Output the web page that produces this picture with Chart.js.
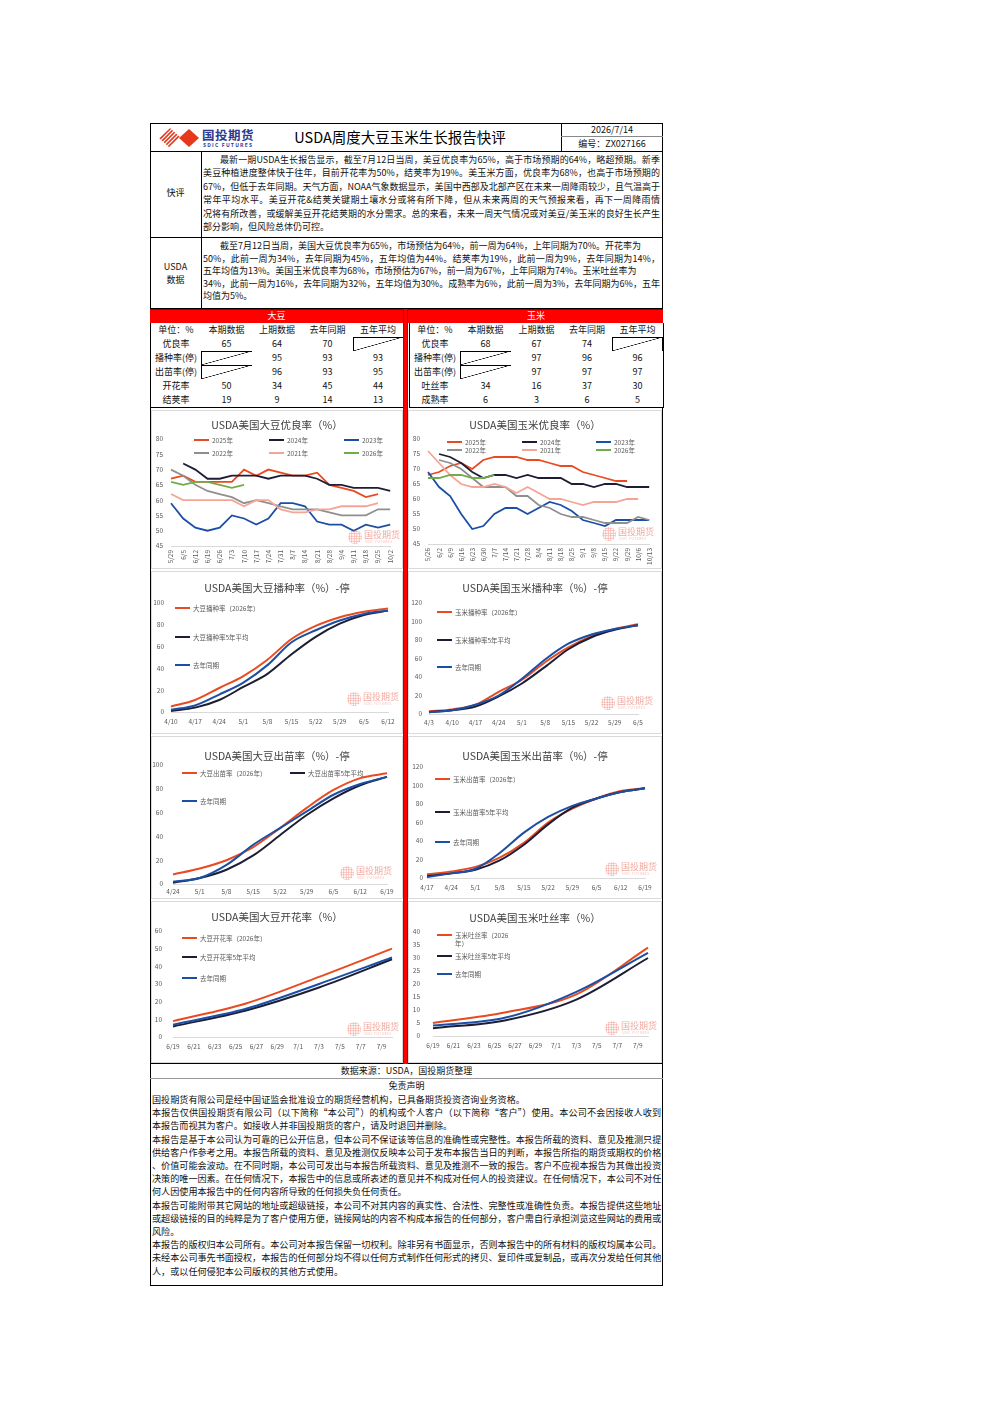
<!DOCTYPE html>
<html lang="en">
<head>
<meta charset="UTF-8" />
<title>USDA周度大豆玉米生长报告快评</title>
<script src="https://cdn.jsdelivr.net/npm/chart.js"></script>
<style>
  html, body { margin: 0; padding: 0; background: #fff; }
  body { width: 992px; height: 1403px; position: relative; font-family: "Noto Sans CJK SC", "Noto Sans", sans-serif; color: #111; }
  .hl { position: absolute; height: 1px; background: #000; }
  .vl { position: absolute; width: 1px; background: #000; }
  .txt { position: absolute; font-size: 9px; white-space: nowrap; }
  .txt div { overflow: visible; }
  .j { text-align: justify; text-align-last: justify; }
  .cell { position: absolute; border: 1px solid #d9d9d9; box-sizing: border-box; background: #fff; }
  .cell canvas { position: absolute; left: 0; top: 0; }
  .ctitle { position: absolute; text-align: center; font-size: 10.5px; line-height: 16px; color: #404040; white-space: nowrap; }
  .lg { position: absolute; font-size: 6.5px; line-height: 8px; color: #595959; white-space: nowrap; }
  .lgl { position: absolute; height: 2px; }
  .tc { position: absolute; box-sizing: border-box; border-right: 1px solid #000; border-bottom: 1px solid #000; font-size: 9px; text-align: center; line-height: 13px; background: #fff; }
  .slash { background: linear-gradient(to bottom right, transparent calc(50% - 0.6px), #000 50%, transparent calc(50% + 0.6px)); }
  .wm { position: absolute; width: 54px; height: 16px; }
  .wm b { position: absolute; left: 0; top: 0; width: 14px; height: 14px; border-radius: 50%;
          background: radial-gradient(circle, rgba(240,110,95,.55) 0 0.8px, transparent 1.1px) 0 0 / 2.5px 2.5px; }
  .wm span { position: absolute; left: 16px; top: -1px; font-size: 9px; line-height: 11px; color: rgba(232,120,105,.65); }
  .wm em { position: absolute; left: 17px; top: 10px; font-size: 3px; font-style: normal; color: rgba(232,120,105,.55); letter-spacing: .6px; }
</style>
</head>
<body>
<!-- header -->
<div style="position:absolute;left:150px;top:123px;width:513px;height:1163px;border:1px solid #000;box-sizing:border-box;"></div>
<svg style="position:absolute;left:159px;top:128px" width="42" height="20" viewBox="0 0 42 20">
  <defs><clipPath id="dia"><polygon points="0,10 11,0 22,10 11,20" /></clipPath></defs>
  <g clip-path="url(#dia)" stroke="#e8381c" stroke-width="1.6">
    <line x1="-4" y1="20" x2="16" y2="0" /><line x1="0" y1="20" x2="20" y2="0" />
    <line x1="4" y1="20" x2="24" y2="0" /><line x1="8" y1="20" x2="28" y2="0" />
    <line x1="-8" y1="20" x2="12" y2="0" />
  </g>
  <polygon points="20,10 30,1 40,10 30,19" fill="#e8381c" />
</svg>
<div style="position:absolute;left:202px;top:127px;font-size:12.5px;line-height:15px;font-weight:bold;color:#2b3990;letter-spacing:0.5px;">国投期货</div>
<div style="position:absolute;left:203px;top:142px;font-size:5px;line-height:6px;font-weight:bold;color:#2b3990;letter-spacing:1.2px;">SDIC FUTURES</div>
<div style="position:absolute;left:250px;width:300px;top:128px;text-align:center;font-size:14.5px;line-height:18px;color:#000;">USDA周度大豆玉米生长报告快评</div>
<div class="vl" style="left:561px;top:123px;height:28px;"></div>
<div class="hl" style="left:561px;top:136px;width:102px;background:#888;"></div>
<div style="position:absolute;left:561px;width:102px;top:124px;text-align:center;font-size:9px;line-height:12px;">2026/7/14</div>
<div style="position:absolute;left:561px;width:102px;top:138px;text-align:center;font-size:9px;line-height:12px;">编号：ZX027166</div>
<div class="hl" style="left:150px;top:151px;width:513px;"></div>
<div class="vl" style="left:201px;top:151px;height:158px;"></div>
<div class="hl" style="left:150px;top:237px;width:513px;"></div>
<div class="hl" style="left:150px;top:308px;width:513px;"></div>
<div style="position:absolute;left:150px;width:51px;top:186px;text-align:center;font-size:9px;line-height:13px;">快评</div>
<div style="position:absolute;left:150px;width:51px;top:260px;text-align:center;font-size:9px;line-height:13px;">USDA<br>数据</div>

<div class="txt" style="left:203px;top:153px;width:457px;line-height:13.4px;">
  <div class="j" style="text-indent:17px">最新一期USDA生长报告显示，截至7月12日当周，美豆优良率为65%，高于市场预期的64%，略超预期。新季</div>
  <div class="j">美豆种植进度整体快于往年，目前开花率为50%，结荚率为19%。美玉米方面，优良率为68%，也高于市场预期的</div>
  <div class="j">67%，但低于去年同期。天气方面，NOAA气象数据显示，美国中西部及北部产区在未来一周降雨较少，且气温高于</div>
  <div class="j">常年平均水平。美豆开花&amp;结荚关键期土壤水分或将有所下降，但从未来两周的天气预报来看，再下一周降雨情</div>
  <div class="j">况将有所改善，或缓解美豆开花结荚期的水分需求。总的来看，未来一周天气情况或对美豆/美玉米的良好生长产生</div>
  <div>部分影响，但风险总体仍可控。</div>
</div>
<div class="txt" style="left:203px;top:240px;width:457px;line-height:12.5px;">
  <div style="text-indent:17px">截至7月12日当周，美国大豆优良率为65%，市场预估为64%，前一周为64%，上年同期为70%。开花率为</div>
  <div class="j">50%，此前一周为34%，去年同期为45%，五年均值为44%。结荚率为19%，此前一周为9%，去年同期为14%，</div>
  <div>五年均值为13%。美国玉米优良率为68%，市场预估为67%，前一周为67%，上年同期为74%。玉米吐丝率为</div>
  <div class="j">34%，此前一周为16%，去年同期为32%，五年均值为30%。成熟率为6%，此前一周为3%，去年同期为6%，五年</div>
  <div>均值为5%。</div>
</div>

<!-- red band -->
<div style="position:absolute;left:150px;top:309px;width:513px;height:14px;background:#f00;border-top:1px solid #900;box-sizing:border-box;"></div>
<div style="position:absolute;left:150px;width:253px;top:309px;text-align:center;font-size:9px;line-height:14px;color:#fff;">大豆</div>
<div style="position:absolute;left:409px;width:254px;top:309px;text-align:center;font-size:9px;line-height:14px;color:#fff;">玉米</div>
<div style="position:absolute;left:403px;top:309px;width:5px;height:755px;background:#f00;border-left:1px solid #b00;border-right:1px solid #b00;box-sizing:border-box;z-index:5;"></div>

<!-- footer -->
<div class="hl" style="left:150px;top:1063px;width:513px;"></div>
<div class="hl" style="left:150px;top:1078px;width:513px;background:#999;"></div>
<div style="position:absolute;left:150px;width:513px;top:1065px;text-align:center;font-size:9px;line-height:12px;">数据来源：USDA，国投期货整理</div>
<div style="position:absolute;left:150px;width:513px;top:1080px;text-align:center;font-size:9px;line-height:12px;">免责声明</div>
<div class="txt" style="left:152px;top:1093px;width:509px;line-height:13.2px;font-size:9.1px;">
  <div>国投期货有限公司是经中国证监会批准设立的期货经营机构，已具备期货投资咨询业务资格。</div>
  <div class="j">本报告仅供国投期货有限公司（以下简称“本公司”）的机构或个人客户（以下简称“客户”）使用。本公司不会因接收人收到</div>
  <div>本报告而视其为客户。如接收人并非国投期货的客户，请及时退回并删除。</div>
  <div class="j">本报告是基于本公司认为可靠的已公开信息，但本公司不保证该等信息的准确性或完整性。本报告所载的资料、意见及推测只提</div>
  <div class="j">供给客户作参考之用。本报告所载的资料、意见及推测仅反映本公司于发布本报告当日的判断，本报告所指的期货或期权的价格</div>
  <div class="j">、价值可能会波动。在不同时期，本公司可发出与本报告所载资料、意见及推测不一致的报告。客户不应视本报告为其做出投资</div>
  <div class="j">决策的唯一因素。在任何情况下，本报告中的信息或所表述的意见并不构成对任何人的投资建议。在任何情况下，本公司不对任</div>
  <div>何人因使用本报告中的任何内容所导致的任何损失负任何责任。</div>
  <div class="j">本报告可能附带其它网站的地址或超级链接，本公司不对其内容的真实性、合法性、完整性或准确性负责。本报告提供这些地址</div>
  <div class="j">或超级链接的目的纯粹是为了客户使用方便，链接网站的内容不构成本报告的任何部分，客户需自行承担浏览这些网站的费用或</div>
  <div>风险。</div>
  <div>本报告的版权归本公司所有。本公司对本报告保留一切权利。除非另有书面显示，否则本报告中的所有材料的版权均属本公司。</div>
  <div class="j">未经本公司事先书面授权，本报告的任何部分均不得以任何方式制作任何形式的拷贝、复印件或复制品，或再次分发给任何其他</div>
  <div>人，或以任何侵犯本公司版权的其他方式使用。</div>
</div>

<script>
const FONT = '"Noto Sans CJK SC", "Noto Sans", sans-serif';
const RED = '#ea4a1f', NAVY = '#1d1d35', BLUE = '#1b4fa5', GREY = '#8f8f8f', PINK = '#f5a596', GREEN = '#70ad47';

// ---- table ----
const tableHeads = ['单位：%', '本期数据', '上期数据', '去年同期', '五年平均'];
const soyRows = ['优良率', '播种率(停)', '出苗率(停)', '开花率', '结荚率'];
const soyTable = [[65, 64, 70, null], [null, 95, 93, 93], [null, 96, 93, 95], [50, 34, 45, 44], [19, 9, 14, 13]];
const cornRows = ['优良率', '播种率(停)', '出苗率(停)', '吐丝率', '成熟率'];
const cornTable = [[68, 67, 74, null], [null, 97, 96, 96], [null, 97, 97, 97], [34, 16, 37, 30], [6, 3, 6, 5]];

// ---- 优良率 ----
const soyGoodWeeks = ['5/29','6/5','6/12','6/19','6/26','7/3','7/10','7/17','7/24','7/31','8/7','8/14','8/21','8/28','9/4','9/11','9/18','9/25','10/2'];
const soyGood2025 = [67,68,66,66,66,66,70,68,70,69,68,68,69,65,64,63,61,62,null];
const soyGood2024 = [null,72,70,67,67,68,68,68,67,68,68,68,67,65,65,64,64,64,63];
const soyGood2023 = [59,54,51,50,51,55,54,52,54,59,59,58,53,52,52,50,52,51,52];
const soyGood2022 = [70,68,65,63,62,61,59,60,59,58,57,57,57,56,55,55,55,57,57];
const soyGood2021 = [62,60,60,60,60,60,58,60,60,57,56,56,57,57,58,58,58,59,null];
const soyGood2026 = [66,65,66,66,65,64,65];

const cornGoodWeeks = ['5/26','6/2','6/9','6/16','6/23','6/30','7/7','7/14','7/21','7/28','8/4','8/11','8/18','8/25','9/1','9/8','9/15','9/22','9/29','10/6','10/13'];
const cornGood2025 = [68,69,71,72,70,73,74,74,74,73,73,72,71,71,69,68,67,66,66,null,null];
const cornGood2024 = [null,75,74,72,69,67,68,68,67,68,67,67,67,65,65,64,65,65,64,64,64];
const cornGood2023 = [69,64,61,55,50,51,55,57,57,55,57,59,58,56,53,52,51,53,53,53,53];
const cornGood2022 = [null,73,72,70,67,64,64,64,61,61,58,57,55,54,54,53,52,52,52,54,53];
const cornGood2021 = [76,72,68,65,64,64,65,64,62,64,62,60,60,59,58,59,59,59,60,60,null];
const cornGood2026 = [67,67,68,68,67,67,68];

// ---- 播种率 ----
const soyPlantWeeks = ['4/10','4/17','4/24','5/1','5/8','5/15','5/22','5/29','6/5','6/12'];
const soyPlant2026 = [5,11,22,33,48,67,79,87,92,95];
const soyPlant5yr = [1,4,11,23,35,53,69,81,89,93];
const soyPlantLastYr = [2,6,16,27,43,64,75,84,90,93];

const cornPlantWeeks = ['4/3','4/10','4/17','4/24','5/1','5/8','5/15','5/22','5/29','6/5'];
const cornPlant2026 = [3,5,10,24,37,56,72,84,92,97];
const cornPlant5yr = [2,4,8,19,33,51,70,83,91,96];
const cornPlantLastYr = [2,4,10,20,38,59,76,86,92,96];

// ---- 出苗率 ----
const soyEmergeWeeks = ['4/24','5/1','5/8','5/15','5/22','5/29','6/5','6/12','6/19'];
const soyEmerge2026 = [8,13,20,31,47,64,79,89,93];
const soyEmerge5yr = [1,5,12,24,41,58,72,83,90];
const soyEmergeLastYr = [2,5,16,33,47,61,75,84,90];

const cornEmergeWeeks = ['4/17','4/24','5/1','5/8','5/15','5/22','5/29','6/5','6/12','6/19'];
const cornEmerge2026 = [4,7,12,22,38,60,75,86,94,97];
const cornEmerge5yr = [2,5,9,19,36,58,76,86,93,97];
const cornEmergeLastYr = [1,5,10,27,49,66,78,86,93,97];

// ---- 开花率 / 吐丝率 ----
const summerDays = ['6/19','6/20','6/21','6/22','6/23','6/24','6/25','6/26','6/27','6/28','6/29','6/30','7/1','7/2','7/3','7/4','7/5','7/6','7/7','7/8','7/9','7/10'];
const summerWeeks = ['6/19','6/26','7/3','7/10'];
const soyBloom2026 = [9,19,34,50];
const soyBloom5yr = [6,15,28,44];
const soyBloomLastYr = [7,16,30,45];
const cornSilk2026 = [5,9,16,34];
const cornSilk5yr = [3,6,14,30];
const cornSilkLastYr = [4,7,17,32];

const px = v => v + 'px';
function el(cls, css, html) {
  const d = document.createElement('div');
  if (cls) d.className = cls;
  Object.assign(d.style, css);
  if (html != null) d.innerHTML = html;
  document.body.appendChild(d);
  return d;
}

// table
const colsL = [150, 201, 252, 302, 353, 403];
const colsR = [409, 460, 511, 562, 612, 663];
const rowsY = [323, 337, 351, 365, 379, 393, 407];
function drawTable(cols, rowNames, values) {
  for (let r = 0; r < rowsY.length - 1; r++) {
    for (let c = 0; c < cols.length - 1; c++) {
      let txt = '', slash = false;
      if (r === 0) txt = tableHeads[c];
      else if (c === 0) txt = rowNames[r - 1];
      else {
        const v = values[r - 1][c - 1];
        if (v === null) slash = true; else txt = v;
      }
      const d = el('tc' + (slash ? ' slash' : ''), {
        left: px(cols[c]), top: px(rowsY[r]), width: px(cols[c + 1] - cols[c] + 1), height: px(rowsY[r + 1] - rowsY[r] + 1),
        lineHeight: px(rowsY[r + 1] - rowsY[r])
      }, String(txt));
      if (c === 0) d.style.borderLeft = '1px solid #000';
    }
  }
}
drawTable(colsL, soyRows, soyTable);
drawTable(colsR, cornRows, cornTable);

function watermark(x, y) {
  el('wm', { left: px(x), top: px(y) }, '<b></b><span>国投期货</span><em>SDIC FUTURES</em>');
}

function makeChart(s) {
  const [x, y, w, h] = s.cell;
  const box = el('cell', { left: px(x), top: px(y), width: px(w), height: px(h) });
  const cv = document.createElement('canvas');
  const cw = w - 2, ch = h - 2;
  cv.width = cw; cv.height = ch;
  box.appendChild(cv);
  const ox = x + 1, oy = y + 1;
  const L = s.first - ox, R = s.last - ox, T = s.top - oy, B = s.bottom - oy;

  el('ctitle', { left: px(x), width: px(w), top: px(s.titleY - 8) }, s.title);

  s.series.forEach((sr, i) => {
    const [lx, ly] = s.legend[i];
    el('lgl', { left: px(lx), top: px(ly - 1), width: px(15), background: sr.color });
    const t = el('lg', { left: px(lx + 18), top: px(ly - 4) }, sr.name);
    if (s.wrapFirst && i === 0) { t.style.whiteSpace = 'normal'; t.style.width = px(s.wrapFirst); }
  });
  watermark(s.wm[0], s.wm[1]);

  const n = s.series.length;
  const datasets = s.series.map((sr, i) => ({
    label: sr.name,
    data: sr.data,
    borderColor: sr.color,
    backgroundColor: sr.color,
    borderWidth: s.lw || 2,
    pointRadius: 0,
    fill: false,
    order: n - i,
    tension: 0,
    cubicInterpolationMode: s.smooth ? 'monotone' : 'default'
  }));
  const xticks = {
    autoSkip: false, minRotation: s.rot || 0, maxRotation: s.rot || 0,
    padding: s.xpad, color: '#595959', font: { family: FONT, size: 6.5 }
  };
  if (s.xcb) xticks.callback = s.xcb;

  new Chart(cv, {
    type: 'line',
    data: { labels: s.labels, datasets },
    options: {
      responsive: false,
      animation: false,
      devicePixelRatio: 1,
      layout: { padding: { left: 0, right: cw - R, top: T, bottom: 0 } },
      plugins: { legend: { display: false }, tooltip: { enabled: false }, title: { display: false } },
      scales: {
        x: {
          type: 'category', offset: false,
          grid: { display: false, drawTicks: false },
          border: { display: true, color: '#d9d9d9', width: 1 },
          ticks: xticks,
          afterFit: sc => { sc.height = ch - B; }
        },
        y: {
          min: s.y[0], max: s.y[1],
          grid: { display: false, drawTicks: false },
          border: { display: false },
          ticks: { stepSize: s.y[2], padding: s.ypad, color: '#595959', font: { family: FONT, size: 6.5 } },
          afterFit: sc => { sc.width = L; }
        }
      }
    }
  });
}

const weekly = (vals) => vals.map((v, i) => ({ x: summerWeeks[i], y: v }));
const everyOther = function (val, idx) { return idx % 2 === 0 ? this.getLabelForValue(val) : ''; };

makeChart({
  cell: [151, 410, 252, 159], title: 'USDA美国大豆优良率（%）', titleY: 425,
  labels: soyGoodWeeks, y: [45, 80, 5], first: 171, last: 396, top: 439, bottom: 546,
  ypad: 8, xpad: 4, rot: 90, lw: 1.8,
  series: [
    { name: '2025年', data: soyGood2025, color: RED },
    { name: '2024年', data: soyGood2024, color: NAVY },
    { name: '2023年', data: soyGood2023, color: BLUE },
    { name: '2022年', data: soyGood2022, color: GREY },
    { name: '2021年', data: soyGood2021, color: PINK },
    { name: '2026年', data: soyGood2026, color: GREEN }
  ],
  legend: [[194, 440], [269, 440], [344, 440], [194, 453], [269, 453], [344, 453]],
  wm: [348, 530]
});

makeChart({
  cell: [408, 410, 254, 159], title: 'USDA美国玉米优良率（%）', titleY: 425,
  labels: cornGoodWeeks, y: [45, 80, 5], first: 428, last: 651, top: 439, bottom: 544,
  ypad: 8, xpad: 4, rot: 90, lw: 1.8,
  series: [
    { name: '2025年', data: cornGood2025, color: RED },
    { name: '2024年', data: cornGood2024, color: NAVY },
    { name: '2023年', data: cornGood2023, color: BLUE },
    { name: '2022年', data: cornGood2022, color: GREY },
    { name: '2021年', data: cornGood2021, color: PINK },
    { name: '2026年', data: cornGood2026, color: GREEN }
  ],
  legend: [[447, 442], [522, 442], [596, 442], [447, 450], [522, 450], [596, 450]],
  wm: [602, 527]
});

makeChart({
  cell: [151, 571, 252, 163], title: 'USDA美国大豆播种率（%）-停', titleY: 588,
  labels: soyPlantWeeks, y: [0, 100, 20], first: 171, last: 388, top: 603, bottom: 712,
  ypad: 7, xpad: 6, smooth: true,
  series: [
    { name: '大豆播种率（2026年）', data: soyPlant2026, color: RED },
    { name: '大豆播种率5年平均', data: soyPlant5yr, color: NAVY },
    { name: '去年同期', data: soyPlantLastYr, color: BLUE }
  ],
  legend: [[175, 608], [175, 637], [175, 665]],
  wm: [347, 692]
});

makeChart({
  cell: [408, 571, 254, 163], title: 'USDA美国玉米播种率（%）-停', titleY: 588,
  labels: cornPlantWeeks, y: [0, 120, 20], first: 429, last: 638, top: 603, bottom: 714,
  ypad: 7, xpad: 5, smooth: true,
  series: [
    { name: '玉米播种率（2026年）', data: cornPlant2026, color: RED },
    { name: '玉米播种率5年平均', data: cornPlant5yr, color: NAVY },
    { name: '去年同期', data: cornPlantLastYr, color: BLUE }
  ],
  legend: [[437, 612], [437, 640], [437, 667]],
  wm: [601, 696]
});

makeChart({
  cell: [151, 736, 252, 163], title: 'USDA美国大豆出苗率（%）-停', titleY: 756,
  labels: soyEmergeWeeks, y: [0, 100, 20], first: 173, last: 387, top: 765, bottom: 884,
  ypad: 10, xpad: 4, smooth: true,
  series: [
    { name: '大豆出苗率（2026年）', data: soyEmerge2026, color: RED },
    { name: '大豆出苗率5年平均', data: soyEmerge5yr, color: NAVY },
    { name: '去年同期', data: soyEmergeLastYr, color: BLUE }
  ],
  legend: [[182, 773], [290, 773], [182, 801]],
  wm: [340, 866]
});

makeChart({
  cell: [408, 736, 254, 163], title: 'USDA美国玉米出苗率（%）-停', titleY: 756,
  labels: cornEmergeWeeks, y: [0, 120, 20], first: 427, last: 645, top: 767, bottom: 878,
  ypad: 4, xpad: 6, smooth: true,
  series: [
    { name: '玉米出苗率（2026年）', data: cornEmerge2026, color: RED },
    { name: '玉米出苗率5年平均', data: cornEmerge5yr, color: NAVY },
    { name: '去年同期', data: cornEmergeLastYr, color: BLUE }
  ],
  legend: [[435, 779], [435, 812], [435, 842]],
  wm: [605, 862]
});

makeChart({
  cell: [151, 901, 252, 162], title: 'USDA美国大豆开花率（%）', titleY: 917,
  labels: summerDays, y: [0, 60, 10], first: 173, last: 392, top: 931, bottom: 1037,
  ypad: 11, xpad: 6, smooth: true, xcb: everyOther,
  series: [
    { name: '大豆开花率（2026年）', data: weekly(soyBloom2026), color: RED },
    { name: '大豆开花率5年平均', data: weekly(soyBloom5yr), color: NAVY },
    { name: '去年同期', data: weekly(soyBloomLastYr), color: BLUE }
  ],
  legend: [[182, 938], [182, 957], [182, 978]],
  wm: [347, 1022]
});

makeChart({
  cell: [408, 901, 254, 162], title: 'USDA美国玉米吐丝率（%）', titleY: 918,
  labels: summerDays, y: [0, 40, 5], first: 433, last: 648, top: 932, bottom: 1036,
  ypad: 13, xpad: 6, smooth: true, xcb: everyOther, wrapFirst: 58,
  series: [
    { name: '玉米吐丝率（2026年）', data: weekly(cornSilk2026), color: RED },
    { name: '玉米吐丝率5年平均', data: weekly(cornSilk5yr), color: NAVY },
    { name: '去年同期', data: weekly(cornSilkLastYr), color: BLUE }
  ],
  legend: [[437, 935], [437, 956], [437, 974]],
  wm: [605, 1021]
});
</script>
</body>
</html>
